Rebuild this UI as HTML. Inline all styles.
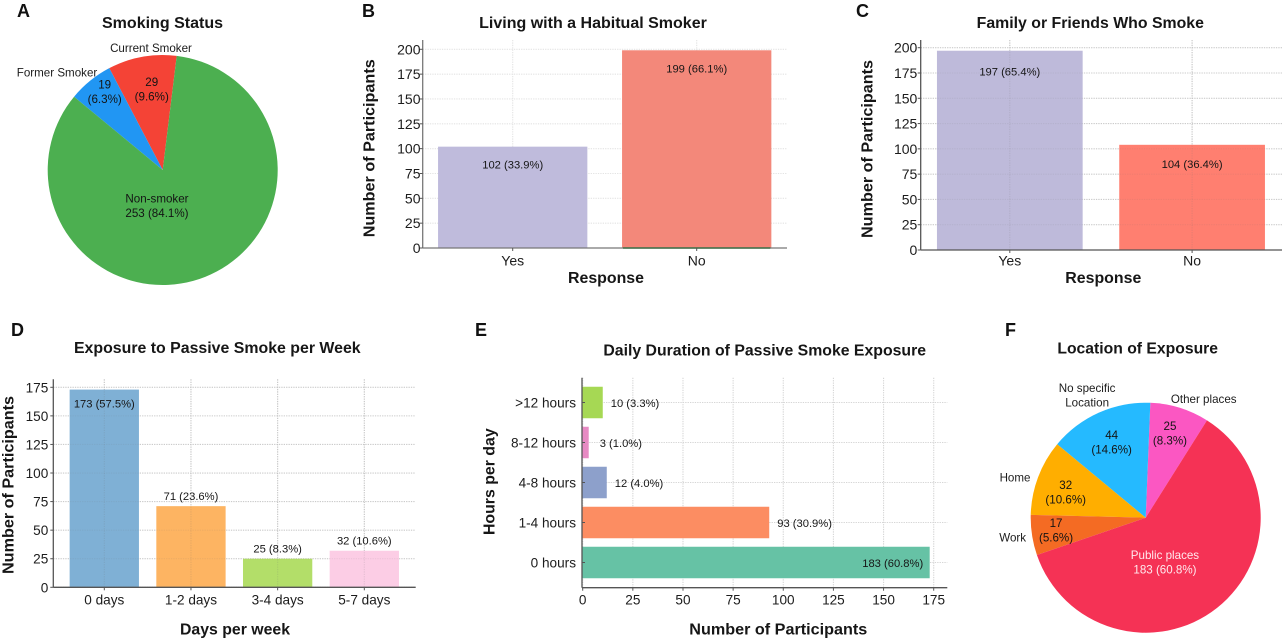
<!DOCTYPE html>
<html lang="en">
<head>
<meta charset="utf-8">
<title>Passive smoking survey charts</title>
<style>
html,body{margin:0;padding:0;background:#fff;width:1285px;height:641px;overflow:hidden}
svg{display:block;font-family:"Liberation Sans",sans-serif;fill:#111;filter:blur(0.3px)}
.title{font-weight:700;font-size:16px;text-anchor:middle;fill:#161616}
.axis-title{font-weight:700;font-size:16px;text-anchor:middle;fill:#161616}
.panel{font-weight:700;font-size:18px;fill:#111}
</style>
</head>
<body>
<svg id="figure" width="1285" height="641" viewBox="0 0 1285 641" xmlns="http://www.w3.org/2000/svg">
  <g id="panel-a">
    <text class="panel" x="17" y="17">A</text>
    <text class="title" x="162.5" y="28" textLength="121" lengthAdjust="spacingAndGlyphs">Smoking Status</text>
  </g>
  <g id="panel-b">
    <text class="panel" x="362" y="17">B</text>
    <text class="title" x="593" y="28" textLength="227.7" lengthAdjust="spacingAndGlyphs">Living with a Habitual Smoker</text>
    <text class="axis-title" x="606" y="283" textLength="76" lengthAdjust="spacingAndGlyphs">Response</text>
    <text class="axis-title" transform="translate(374.5 148.3) rotate(-90)" textLength="178" lengthAdjust="spacingAndGlyphs">Number of Participants</text>
  </g>
  <g id="panel-c">
    <text class="panel" x="856" y="17">C</text>
    <text class="title" x="1090.3" y="28" textLength="227.3" lengthAdjust="spacingAndGlyphs">Family or Friends Who Smoke</text>
    <text class="axis-title" x="1103.3" y="283" textLength="76" lengthAdjust="spacingAndGlyphs">Response</text>
    <text class="axis-title" transform="translate(872.5 149) rotate(-90)" textLength="178" lengthAdjust="spacingAndGlyphs">Number of Participants</text>
  </g>
  <g id="panel-d">
    <text class="panel" x="11" y="336">D</text>
    <text class="title" x="217.3" y="353" textLength="286.7" lengthAdjust="spacingAndGlyphs">Exposure to Passive Smoke per Week</text>
    <text class="axis-title" x="235" y="634.3" textLength="110" lengthAdjust="spacingAndGlyphs">Days per week</text>
    <text class="axis-title" transform="translate(13.5 485) rotate(-90)" textLength="178" lengthAdjust="spacingAndGlyphs">Number of Participants</text>
  </g>
  <g id="panel-e">
    <text class="panel" x="475" y="336">E</text>
    <text class="title" x="764.7" y="355.7" textLength="322.7" lengthAdjust="spacingAndGlyphs">Daily Duration of Passive Smoke Exposure</text>
    <text class="axis-title" x="778.3" y="634.3" textLength="178" lengthAdjust="spacingAndGlyphs">Number of Participants</text>
    <text class="axis-title" transform="translate(494.5 481.7) rotate(-90)" textLength="106.7" lengthAdjust="spacingAndGlyphs">Hours per day</text>
  </g>
  <g id="panel-f">
    <text class="panel" x="1005" y="336">F</text>
    <text class="title" x="1137.7" y="353.3" textLength="160.7" lengthAdjust="spacingAndGlyphs">Location of Exposure</text>
  </g>
</svg>
<script>
const smokingCategories = ['Current Smoker', 'Former Smoker', 'Non-smoker'];
const smokingValues = [29, 19, 253];
const smokingPercents = ['9.6%', '6.3%', '84.1%'];

const habitualCategories = ['Yes', 'No'];
const habitualValues = [102, 199];
const habitualLabels = ['102 (33.9%)', '199 (66.1%)'];
const habitualTicks = [0, 25, 50, 75, 100, 125, 150, 175, 200];

const familyCategories = ['Yes', 'No'];
const familyValues = [197, 104];
const familyLabels = ['197 (65.4%)', '104 (36.4%)'];
const familyTicks = [0, 25, 50, 75, 100, 125, 150, 175, 200];

const weeklyCategories = ['0 days', '1-2 days', '3-4 days', '5-7 days'];
const weeklyValues = [173, 71, 25, 32];
const weeklyLabels = ['173 (57.5%)', '71 (23.6%)', '25 (8.3%)', '32 (10.6%)'];
const weeklyTicks = [0, 25, 50, 75, 100, 125, 150, 175];

const durationCategories = ['0 hours', '1-4 hours', '4-8 hours', '8-12 hours', '>12 hours'];
const durationValues = [173, 93, 12, 3, 10];
const durationLabels = ['183 (60.8%)', '93 (30.9%)', '12 (4.0%)', '3 (1.0%)', '10 (3.3%)'];
const durationTicks = [0, 25, 50, 75, 100, 125, 150, 175];

const locationCategories = ['Other places', 'No specific\nLocation', 'Home', 'Work', 'Public places'];
const locationValues = [25, 44, 32, 17, 183];
const locationPercents = ['8.3%', '14.6%', '10.6%', '5.6%', '60.8%'];

const NS = 'http://www.w3.org/2000/svg';

function el(tag, attrs, parent, content) {
  const node = document.createElementNS(NS, tag);
  for (const key in attrs) node.setAttribute(key, attrs[key]);
  if (content !== undefined) node.textContent = content;
  parent.appendChild(node);
  return node;
}

function slug(text) {
  return String(text).toLowerCase().replace(/[^a-z0-9]+/g, '-').replace(/^-|-$/g, '');
}

function gridLine(parent, x1, y1, x2, y2, color, key) {
  const line = el('line', {
    x1: x1, y1: y1, x2: x2, y2: y2,
    stroke: color,
    'stroke-width': 1.1,
    'stroke-dasharray': '1.3 1.1'
  }, parent);
  
  
}

function tickMark(parent, x1, y1, x2, y2, key) {
  const line = el('line', { x1: x1, y1: y1, x2: x2, y2: y2, stroke: '#555', 'stroke-width': 1 }, parent);
  
  
}

function axisLine(parent, x1, y1, x2, y2, color, key) {
  const line = el('line', { x1: x1, y1: y1, x2: x2, y2: y2, stroke: color, 'stroke-width': 1.3 }, parent);
  
  
}

function tickText(parent, x, y, anchor, size, text, key) {
  const label = el('text', { x: x, y: y, 'text-anchor': anchor, 'font-size': size, fill: '#1c1c1c' }, parent, text);
  
  
}

function drawColumns(cfg) {
  const root = document.getElementById(cfg.panel);
  const p = cfg.plot;
  const yScale = v => p.bottom - (v / cfg.refValue) * (p.bottom - cfg.refPixel);
  const xCenter = i => cfg.firstCenter + i * cfg.step;

  cfg.ticks.forEach(t => gridLine(root, p.left, yScale(t), p.right, yScale(t), cfg.gridColor, 'y-' + t));
  cfg.categories.forEach((c, i) => gridLine(root, xCenter(i), p.top, xCenter(i), p.bottom, cfg.gridColor, 'x-' + slug(c)));

  cfg.values.forEach((v, i) => {
    const bar = el('rect', {
      x: xCenter(i) - cfg.barWidth / 2,
      y: yScale(v),
      width: cfg.barWidth,
      height: p.bottom - yScale(v),
      fill: cfg.colors[i]
    }, root);
    
    
  });

  if (cfg.gridOver) {
    cfg.ticks.forEach(t => gridLine(root, p.left, yScale(t), p.right, yScale(t), 'rgba(110,110,110,0.1)', 'over-y-' + t));
    cfg.categories.forEach((c, i) => gridLine(root, xCenter(i), p.top, xCenter(i), p.bottom, 'rgba(110,110,110,0.16)', 'over-x-' + slug(c)));
  }

  axisLine(root, p.left, p.top, p.left, p.bottom, cfg.axisColor, 'y-axis-line');
  axisLine(root, p.left, p.bottom, p.right, p.bottom, cfg.axisColor, 'x-axis-line');

  if (cfg.accentIndex !== undefined) {
    const i = cfg.accentIndex;
    const accent = el('line', {
      x1: xCenter(i) - cfg.barWidth / 2 + 1,
      y1: p.bottom,
      x2: xCenter(i) + cfg.barWidth / 2 - 1,
      y2: p.bottom,
      stroke: '#3f7048',
      'stroke-width': 1.4
    }, root);
    
    
  }

  cfg.ticks.forEach(t => {
    tickMark(root, p.left - 3, yScale(t), p.left, yScale(t), 'y-' + t);
    tickText(root, cfg.yLabelX, yScale(t) + 5, 'end', cfg.tickSize, t, 'y-' + t);
  });
  cfg.categories.forEach((c, i) => {
    tickMark(root, xCenter(i), p.bottom, xCenter(i), p.bottom + 3, 'x-' + slug(c));
    tickText(root, xCenter(i), cfg.xLabelY, 'middle', cfg.tickSize, c, 'x-' + slug(c));
  });

  cfg.labels.forEach((text, i) => {
    const value = el('text', {
      x: xCenter(i),
      y: yScale(cfg.values[i]) + cfg.labelOffset(cfg.values[i]) + 4,
      'text-anchor': 'middle',
      'font-size': 11.2,
      fill: '#161616'
    }, root, text);
    
    
  });
}

function drawRows(cfg) {
  const root = document.getElementById(cfg.panel);
  const p = cfg.plot;
  const xScale = v => cfg.zeroPixel + (v / cfg.refValue) * (cfg.refPixel - cfg.zeroPixel);
  const yCenter = i => cfg.firstCenter - i * cfg.step;

  cfg.ticks.forEach(t => gridLine(root, xScale(t), p.top, xScale(t), p.bottom, cfg.gridColor, 'x-' + t));
  cfg.categories.forEach((c, i) => gridLine(root, p.left, yCenter(i), p.right, yCenter(i), cfg.gridColor, 'y-' + slug(c)));

  cfg.values.forEach((v, i) => {
    const bar = el('rect', {
      x: cfg.zeroPixel - 0.5,
      y: yCenter(i) - cfg.barHeight / 2,
      width: xScale(v) - cfg.zeroPixel + 0.5,
      height: cfg.barHeight,
      fill: cfg.colors[i]
    }, root);
    
    
  });

  axisLine(root, p.left, p.top, p.left, p.bottom, '#555', 'y-axis-line');
  axisLine(root, p.left, p.bottom, p.right, p.bottom, '#555', 'x-axis-line');

  cfg.ticks.forEach(t => {
    tickMark(root, xScale(t), p.bottom, xScale(t), p.bottom + 3, 'x-' + t);
    tickText(root, xScale(t), cfg.xLabelY, 'middle', cfg.tickSize, t, 'x-' + t);
  });
  cfg.categories.forEach((c, i) => {
    tickMark(root, p.left, yCenter(i), p.left + 3, yCenter(i), 'y-' + slug(c));
    tickText(root, cfg.yLabelX, yCenter(i) + 5, 'end', cfg.tickSize, c, 'y-' + slug(c));
  });

  cfg.labels.forEach((text, i) => {
    const v = cfg.values[i];
    const inside = v > 150;
    const value = el('text', {
      x: inside ? xScale(v) - 6.5 : xScale(v) + (v < 5 ? 11 : 8),
      y: yCenter(i) + 4.5,
      'text-anchor': inside ? 'end' : 'start',
      'font-size': 11.2,
      fill: '#161616'
    }, root, text);
    
    
  });
}

function multiline(parent, x, y, lines, color, key) {
  const lead = 14.5;
  const top = y - (lines.length - 1) * lead / 2;
  lines.forEach((line, i) => {
    const label = el('text', {
      x: x,
      y: top + i * lead + 4,
      'text-anchor': 'middle',
      'font-size': 11.6,
      fill: color
    }, parent, line);
    
    
  });
}

function drawPie(cfg) {
  const root = document.getElementById(cfg.panel);
  const total = cfg.values.reduce((a, b) => a + b, 0);
  const polar = (deg, r) => {
    const a = deg * Math.PI / 180;
    return [cfg.cx + r * Math.sin(a), cfg.cy - r * Math.cos(a)];
  };
  let angle = cfg.startAngle;
  const mids = [];
  cfg.values.forEach((v, i) => {
    const span = v / total * 360;
    const from = polar(angle, cfg.radius);
    const to = polar(angle - span, cfg.radius);
    const d = 'M' + cfg.cx + ' ' + cfg.cy + ' L' + from[0] + ' ' + from[1] +
      ' A' + cfg.radius + ' ' + cfg.radius + ' 0 ' + (span > 180 ? 1 : 0) + ' 0 ' + to[0] + ' ' + to[1] + ' Z';
    const slice = el('path', { d: d, fill: cfg.colors[i] }, root);
    
    
    mids.push(angle - span / 2);
    angle -= span;
  });

  cfg.values.forEach((v, i) => {
    const name = slug(cfg.categories[i]);
    const inner = polar(mids[i], cfg.radius * 0.7);
    const nudge = cfg.innerNudges[i];
    const outerNudge = cfg.outerNudges[i];
    const catLines = cfg.categories[i].split('\n');
    const color = cfg.innerColors[i];
    if (outerNudge) {
      const outer = polar(mids[i], cfg.radius * 1.1);
      multiline(root, outer[0] + outerNudge[0], outer[1] + outerNudge[1], catLines, '#1c1c1c', 'category-label-' + name);
      multiline(root, inner[0] + nudge[0], inner[1] + nudge[1], [String(v), '(' + cfg.percents[i] + ')'], color, 'value-label-' + name);
    } else {
      multiline(root, inner[0] + nudge[0], inner[1] + nudge[1], catLines.concat([v + ' (' + cfg.percents[i] + ')']), color, 'value-label-' + name);
    }
  });
}

drawPie({
  panel: 'panel-a',
  categories: smokingCategories,
  values: smokingValues,
  percents: smokingPercents,
  cx: 162.7, cy: 170, radius: 115, startAngle: 7,
  colors: ['#F44336', '#2196F3', '#4CAF50'],
  innerColors: ['#141414', '#141414', '#141414'],
  innerNudges: [[3.5, -1.8], [-7.3, -15.5], [-35.5, -38.8]],
  outerNudges: [[11, 2.5], [-26, 0.5], null]
});

drawColumns({
  panel: 'panel-b',
  categories: habitualCategories,
  values: habitualValues,
  labels: habitualLabels,
  ticks: habitualTicks,
  colors: ['#BFBBDC', '#F3887A'],
  plot: { left: 422.7, right: 787, top: 40, bottom: 248 },
  refValue: 200, refPixel: 49.3,
  firstCenter: 512.7, step: 184, barWidth: 149.3,
  yLabelX: 420.5, xLabelY: 265.7, tickSize: 14,
  axisColor: '#777',
  gridColor: '#e4e4e4',
  gridOver: false,
  accentIndex: 1,
  labelOffset: v => 18
});

drawColumns({
  panel: 'panel-c',
  categories: familyCategories,
  values: familyValues,
  labels: familyLabels,
  ticks: familyTicks,
  colors: ['#BEBADA', '#FF7F70'],
  plot: { left: 920.7, right: 1282, top: 40, bottom: 250 },
  refValue: 200, refPixel: 47.7,
  firstCenter: 1009.8, step: 182.3, barWidth: 145.7,
  yLabelX: 917.3, xLabelY: 265.7, tickSize: 14,
  axisColor: '#555',
  gridColor: '#d6d6d6',
  gridOver: true,
  labelOffset: v => (v > 150 ? 21 : 19)
});

drawColumns({
  panel: 'panel-d',
  categories: weeklyCategories,
  values: weeklyValues,
  labels: weeklyLabels,
  ticks: weeklyTicks,
  colors: ['#7FB0D5', '#FDB462', '#B3DE69', '#FCCDE5'],
  plot: { left: 53.3, right: 415.7, top: 379.3, bottom: 587.3 },
  refValue: 175, refPixel: 387.3,
  firstCenter: 104.3, step: 86.67, barWidth: 69.3,
  yLabelX: 48.3, xLabelY: 604.3, tickSize: 13.6,
  axisColor: '#555',
  gridColor: '#d6d6d6',
  gridOver: true,
  labelOffset: v => (v > 150 ? 14 : -10)
});

drawRows({
  panel: 'panel-e',
  categories: durationCategories,
  values: durationValues,
  labels: durationLabels,
  ticks: durationTicks,
  colors: ['#66C2A5', '#FC8D62', '#8DA0CB', '#E78AC3', '#A6D854'],
  plot: { left: 582, right: 947.3, top: 377.7, bottom: 587.7 },
  zeroPixel: 582.7, refValue: 175, refPixel: 933.7,
  firstCenter: 562.5, step: 40, barHeight: 31.5,
  yLabelX: 576, xLabelY: 604.3, tickSize: 13.6,
  gridColor: '#d6d6d6'
});

drawPie({
  panel: 'panel-f',
  categories: locationCategories,
  values: locationValues,
  percents: locationPercents,
  cx: 1145.7, cy: 517.7, radius: 115, startAngle: 32.2,
  colors: ['#FB57C2', '#25BAFF', '#FFAE00', '#F46B23', '#F53255'],
  innerColors: ['#141414', '#141414', '#141414', '#141414', '#FFE9EE'],
  innerNudges: [[0.4, -7.5], [-1.3, -1.7], [-4.6, 2.6], [-10.1, 0.3], [-30.7, -18.5]],
  outerNudges: [[20.5, 2.1], [-7.1, -7.1], [-12.2, 4], [-8, 0.3], null]
});
</script>
</body>
</html>
